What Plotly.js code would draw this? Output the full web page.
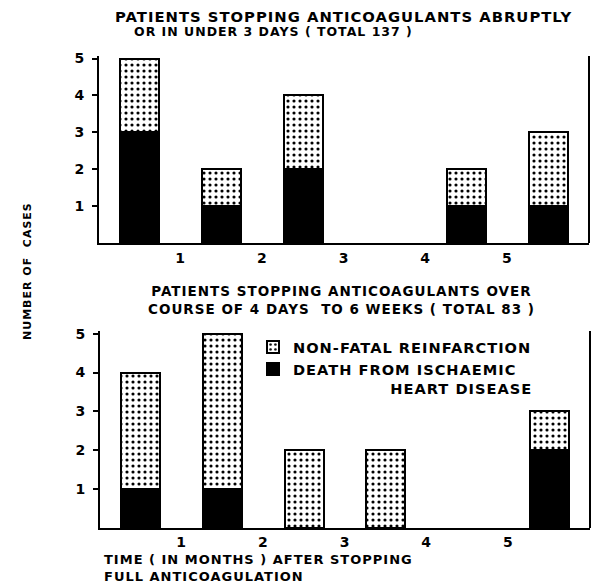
<!DOCTYPE html>
<html>
<head>
<meta charset="utf-8">
<script src="https://cdn.plot.ly/plotly-3.0.1.min.js"></script>
<style>
  html, body { margin: 0; padding: 0; background: #fff; }
  #chart { width: 600px; height: 584px; }
  text { letter-spacing: 1px; }
</style>
</head>
<body>
<div id="chart"></div>
<script>
// Month intervals (bar centres, in months after stopping anticoagulation)
const months = [0.5, 1.5, 2.5, 3.5, 4.5, 5.5];
const xTickVals = [1, 2, 3, 4, 5];
const xTickText = ['1', '2', '3', '4', '5'];
const yTickVals = [1, 2, 3, 4, 5];
const yTickText = ['1', '2', '3', '4', '5'];

// Top panel: stopped abruptly or in under 3 days (total 137)
const topDeath    = [3, 1, 2, 0, 1, 1];
const topNonFatal = [2, 1, 2, 0, 1, 2];

// Bottom panel: stopped over 4 days to 6 weeks (total 83)
const botDeath    = [1, 1, 0, 0, 0, 2];
const botNonFatal = [3, 4, 2, 2, 0, 1];

const seriesNames = ['DEATH FROM ISCHAEMIC<br>' + '&nbsp;'.repeat(16) + 'HEART DISEASE', 'NON-FATAL REINFARCTION'];

const FONT = 'DejaVu Sans';
const barW = 0.48;
// no outline on empty (zero) segments
const lineW = vals => vals.map(v => (v > 0 ? 2 : 0));
const deathMarker = vals => ({ color: '#000', line: { color: '#000', width: lineW(vals) } });
const dotMarker = vals => ({
  color: '#fff',
  line: { color: '#000', width: lineW(vals) },
  pattern: { shape: '.', fgcolor: '#000', bgcolor: '#fff', size: 6, solidity: 0.22 }
});

const traces = [
  { type: 'bar', x: months, y: topDeath, width: barW, marker: deathMarker(topDeath), name: seriesNames[0],
    legendgroup: 'd', showlegend: false, xaxis: 'x', yaxis: 'y' },
  { type: 'bar', x: months, y: topNonFatal, width: barW, marker: dotMarker(topNonFatal), name: seriesNames[1],
    legendgroup: 'n', showlegend: false, xaxis: 'x', yaxis: 'y' },
  { type: 'bar', x: months, y: botDeath, width: barW, marker: deathMarker(botDeath), name: seriesNames[0],
    legendgroup: 'd', showlegend: true, xaxis: 'x2', yaxis: 'y2' },
  { type: 'bar', x: months, y: botNonFatal, width: barW, marker: dotMarker(botNonFatal), name: seriesNames[1],
    legendgroup: 'n', showlegend: true, xaxis: 'x2', yaxis: 'y2' }
];

const xCommon = {
  range: [0, 6], tickmode: 'array', tickvals: xTickVals, ticktext: xTickText,
  showline: true, linecolor: '#000', linewidth: 2, ticks: '', showgrid: false, zeroline: false,
  tickfont: { family: FONT, size: 14, color: '#000', weight: 'bold' },
  automargin: false, fixedrange: true
};
const yCommon = {
  range: [0, 5.07], tickmode: 'array', tickvals: yTickVals, ticktext: yTickText,
  showline: true, linecolor: '#000', linewidth: 2, ticks: 'outside', ticklen: 5, tickwidth: 2,
  tickcolor: '#000', showgrid: false, zeroline: false,
  tickfont: { family: FONT, size: 14, color: '#000', weight: 'bold' },
  ticklabelstandoff: 4, automargin: false, fixedrange: true
};

const layout = {
  width: 600, height: 584,
  margin: { l: 0, r: 0, t: 0, b: 0 },
  paper_bgcolor: '#fff', plot_bgcolor: '#fff',
  barmode: 'stack', bargap: 0,
  font: { family: FONT, color: '#000' },
  xaxis:  Object.assign({}, xCommon, { domain: [99/600, 589/600], anchor: 'y', ticklabelstandoff: 1 }),
  yaxis:  Object.assign({}, yCommon, { domain: [(584-243)/584, (584-56)/584], anchor: 'x' }),
  xaxis2: Object.assign({}, xCommon, { domain: [100/600, 590/600], anchor: 'y2', ticklabelstandoff: 0 }),
  yaxis2: Object.assign({}, yCommon, { domain: [(584-528)/584, (584-331)/584], anchor: 'x2' }),
  showlegend: true,
  legend: {
    x: 253/600, xanchor: 'left', y: (584-331)/584, yanchor: 'top',
    traceorder: 'reversed', valign: 'top', bgcolor: 'rgba(0,0,0,0)',
    font: { family: FONT, size: 14.6, color: '#000', weight: 'bold' },
    tracegroupgap: 0
  },
  shapes: [
    { type: 'line', xref: 'x domain', yref: 'y domain', x0: 1, x1: 1, y0: 0, y1: 1,
      line: { color: '#000', width: 2 } },
    { type: 'line', xref: 'x2 domain', yref: 'y2 domain', x0: 1, x1: 1, y0: 0, y1: 1,
      line: { color: '#000', width: 2 } }
  ],
  annotations: [
    { xref: 'paper', yref: 'paper', x: 343/600, y: 1 - 16/584, xanchor: 'center', yanchor: 'middle',
      text: 'PATIENTS STOPPING ANTICOAGULANTS ABRUPTLY', showarrow: false,
      font: { family: FONT, size: 14.8, color: '#000', weight: 'bold' } },
    { xref: 'paper', yref: 'paper', x: 273/600, y: 1 - 31/584, xanchor: 'center', yanchor: 'middle',
      text: 'OR IN UNDER 3 DAYS ( TOTAL 137 )', showarrow: false,
      font: { family: FONT, size: 12.5, color: '#000', weight: 'bold' } },
    { xref: 'paper', yref: 'paper', x: 341/600, y: 1 - 300/584, xanchor: 'center', yanchor: 'middle',
      text: 'PATIENTS STOPPING ANTICOAGULANTS OVER<br>COURSE OF 4 DAYS  TO 6 WEEKS ( TOTAL 83 )',
      showarrow: false, align: 'center',
      font: { family: FONT, size: 13.5, color: '#000', weight: 'bold' } },
    { xref: 'paper', yref: 'paper', x: 102/600, y: 1 - 568/584, xanchor: 'left', yanchor: 'middle',
      text: 'TIME ( IN MONTHS ) AFTER STOPPING<br>FULL ANTICOAGULATION',
      showarrow: false, align: 'left',
      font: { family: FONT, size: 13, color: '#000', weight: 'bold' } },
    { xref: 'paper', yref: 'paper', x: 27/600, y: 1 - 271/584, xanchor: 'center', yanchor: 'middle',
      text: 'NUMBER OF  CASES', textangle: -90, showarrow: false,
      font: { family: FONT, size: 11, color: '#000', weight: 'bold' } }
  ]
};

Plotly.newPlot('chart', traces, layout, { staticPlot: true, displayModeBar: false });
</script>
</body>
</html>
